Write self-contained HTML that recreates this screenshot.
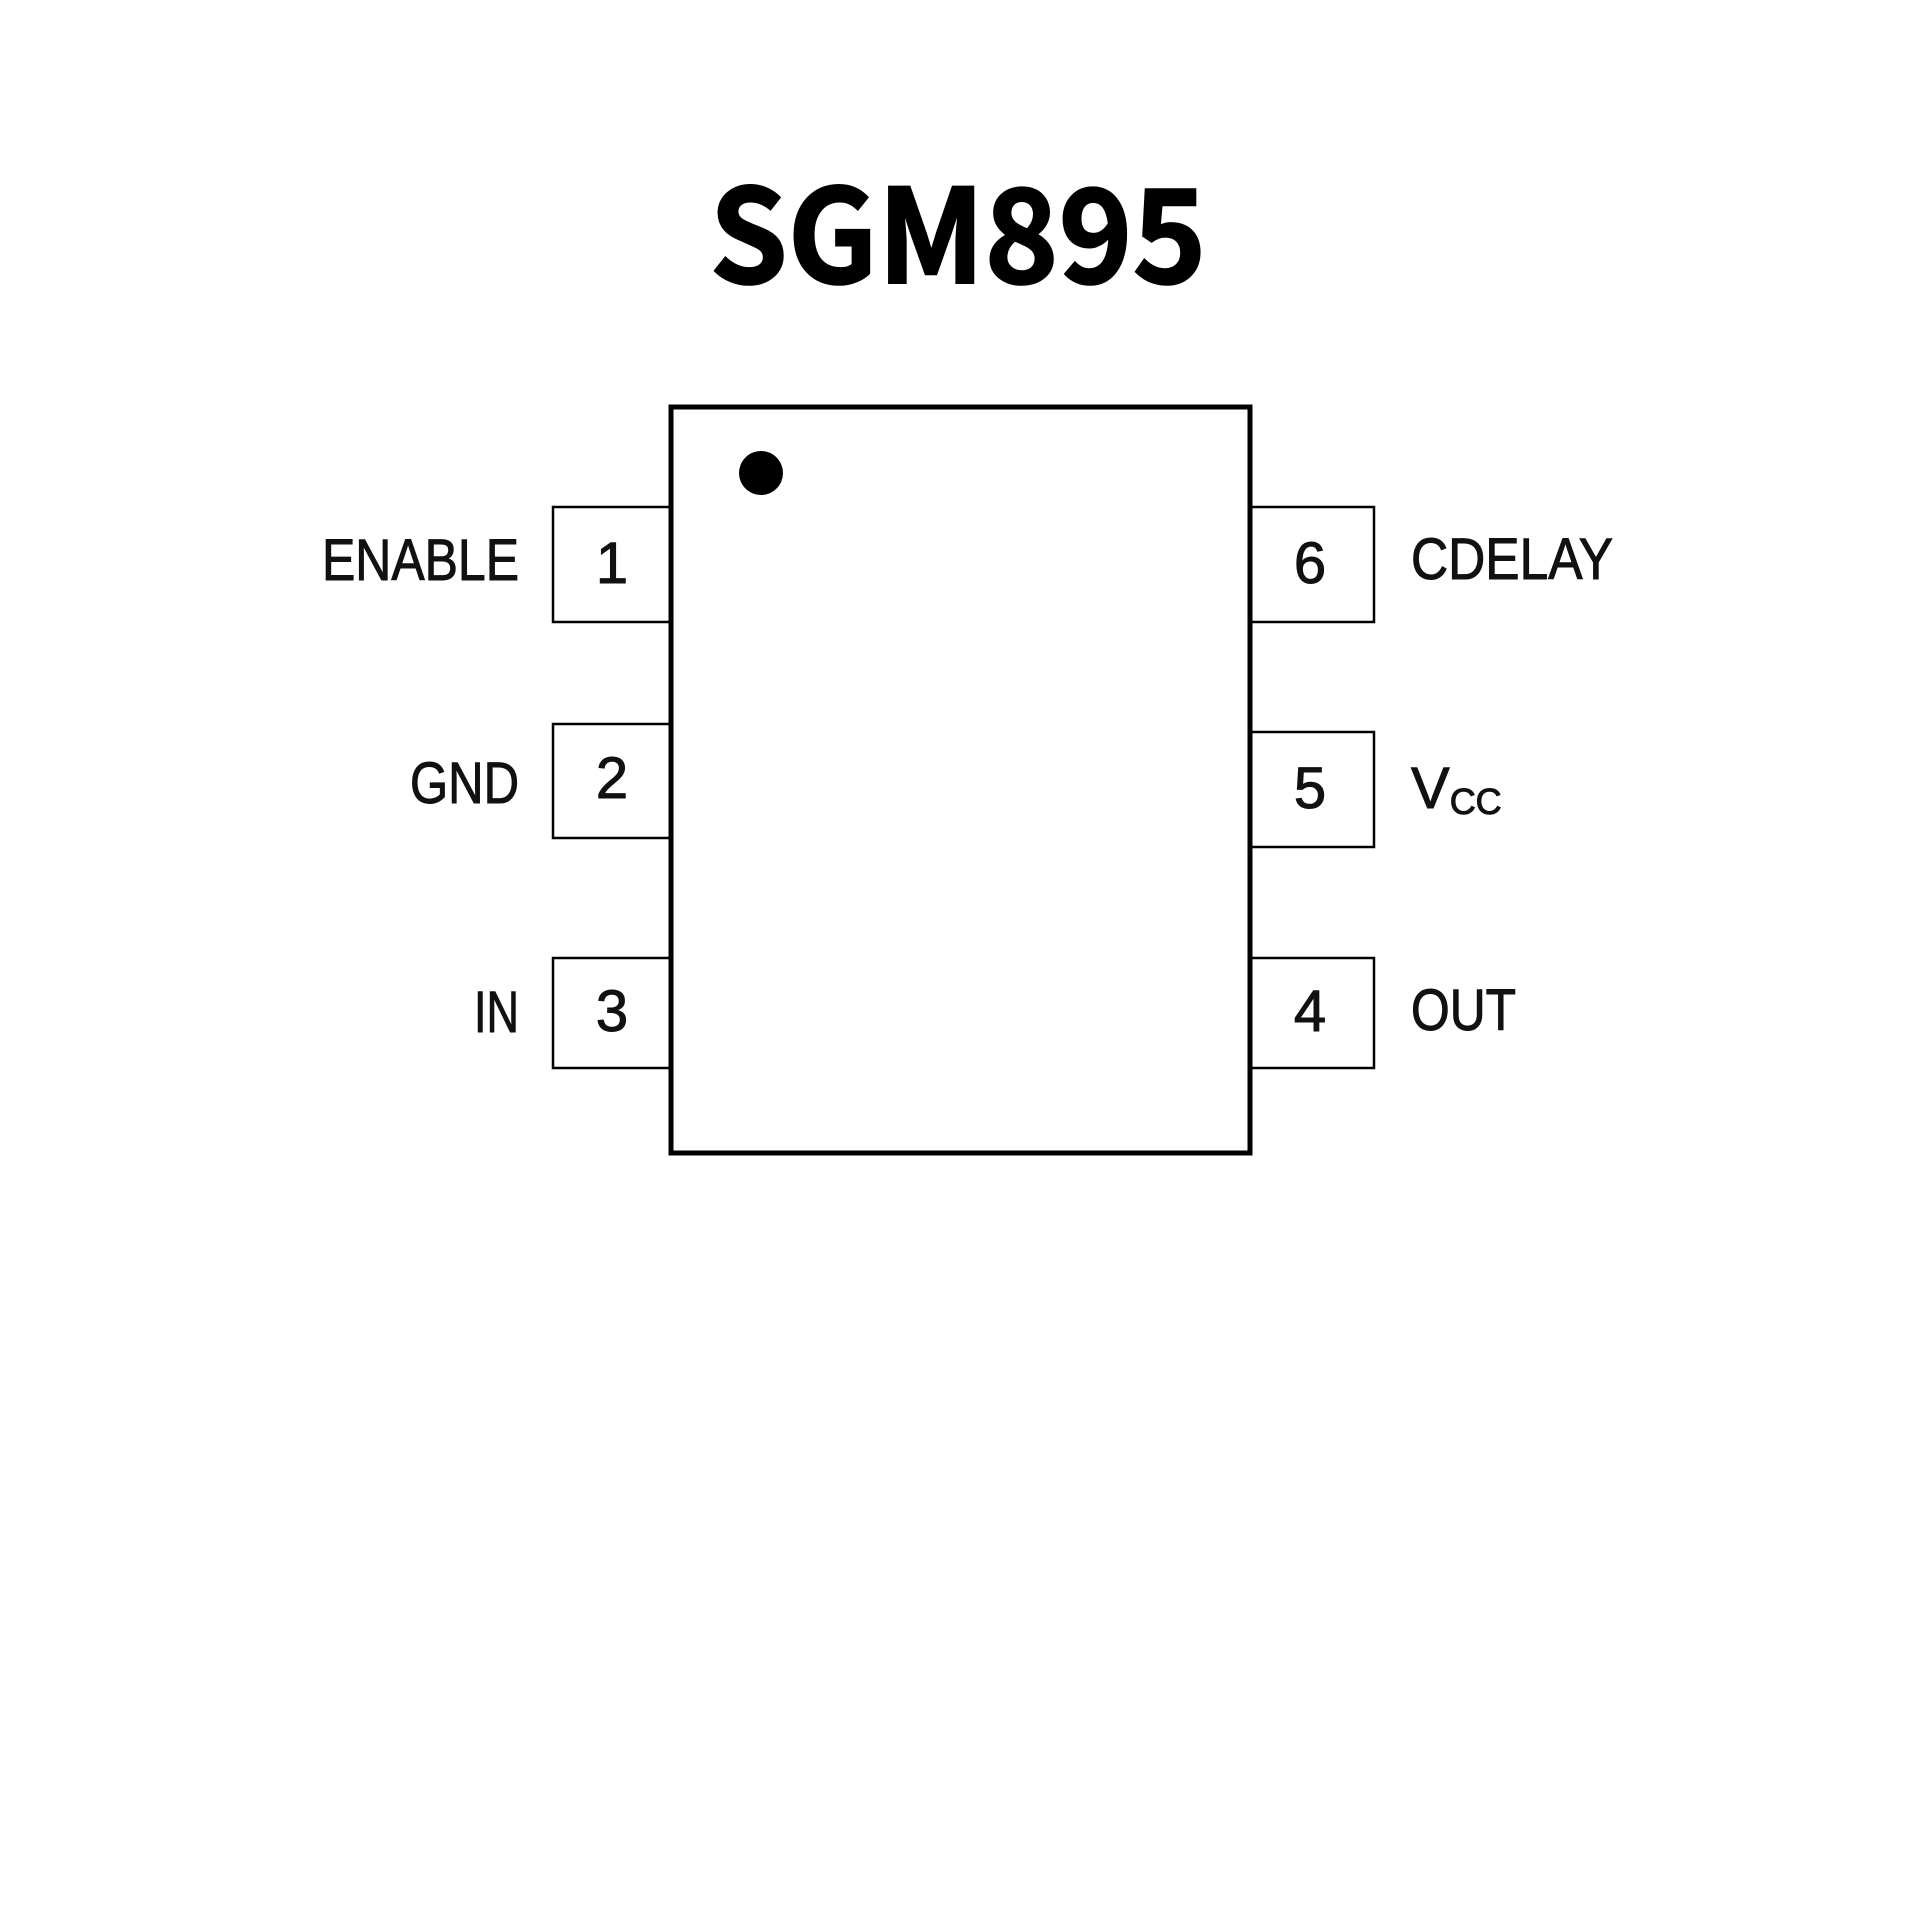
<!DOCTYPE html>
<html><head><meta charset="utf-8"><style>html,body{margin:0;padding:0;background:#fff}svg{display:block}</style></head>
<body>
<svg width="1920" height="1920" viewBox="0 0 1920 1920" xmlns="http://www.w3.org/2000/svg">
<rect width="1920" height="1920" fill="#fff"/>
<text x="958" y="283" text-anchor="middle" font-family="'Noto Sans CJK SC','Liberation Sans',sans-serif" font-weight="bold" font-size="130" stroke="#000" stroke-width="2" textLength="497" lengthAdjust="spacingAndGlyphs">SGM895</text>
<g fill="none" stroke="#000">
<rect x="671" y="407" width="579" height="746" stroke-width="5"/>
<g stroke-width="2.5">
<path d="M671 507H553V622H671"/>
<path d="M671 724H553V838H671"/>
<path d="M671 958H553V1068H671"/>
<path d="M1250 507H1374V622H1250"/>
<path d="M1250 732H1374V847H1250"/>
<path d="M1250 958H1374V1068H1250"/>
</g></g>
<circle cx="761" cy="473" r="22" fill="#000"/>
<g font-family="'Liberation Sans',Arial,sans-serif" font-size="58" fill="#111" stroke="#111" stroke-width="1">
<text x="322" y="580" textLength="197" lengthAdjust="spacingAndGlyphs">ENABLE</text>
<text x="410" y="803" textLength="109" lengthAdjust="spacingAndGlyphs">GND</text>
<text x="474" y="1032" textLength="45" lengthAdjust="spacingAndGlyphs">IN</text>
<g text-anchor="middle">
<text x="612" y="583">1</text>
<text x="612" y="798">2</text>
<text x="612" y="1031">3</text>
<text x="1310" y="583">6</text>
<text x="1310" y="808">5</text>
<text x="1310" y="1031">4</text>
</g>
<text x="1411" y="579" textLength="202" lengthAdjust="spacingAndGlyphs">CDELAY</text>
<text x="1411" y="808">V<tspan font-size="36" dy="6">CC</tspan></text>
<text x="1411" y="1030" textLength="105" lengthAdjust="spacingAndGlyphs">OUT</text>
</g>
</svg>
</body></html>
